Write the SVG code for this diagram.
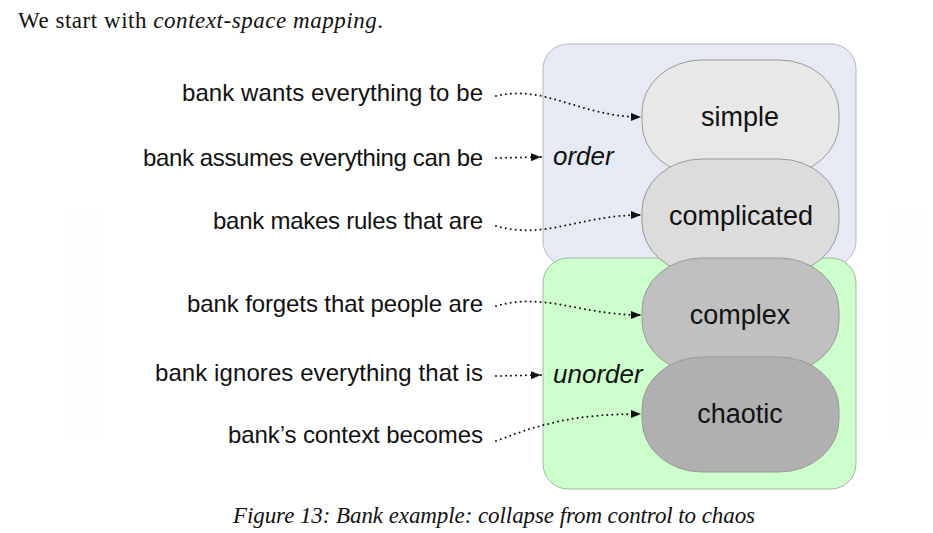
<svg xmlns="http://www.w3.org/2000/svg" width="933" height="533" viewBox="0 0 933 533">
<style>
.lbl{font-family:"Liberation Sans",Arial,sans-serif;font-size:24px;fill:#111;text-anchor:end}
.reg{font-family:"Liberation Sans",Arial,sans-serif;font-size:26px;font-style:italic;fill:#111}
.nt{font-family:"Liberation Sans",Arial,sans-serif;font-size:27px;fill:#111;text-anchor:middle}
.dom{stroke:#999;stroke-width:1}
.con{fill:none;stroke:#111;stroke-width:2;stroke-dasharray:0 5;stroke-linecap:round}
.ser{font-family:"Liberation Serif","Times New Roman",serif;font-size:23px;fill:#111}
</style>
<defs>
<marker id="ah" viewBox="0 0 10 8" refX="10" refY="4" markerWidth="10" markerHeight="8" markerUnits="userSpaceOnUse" orient="auto">
<path d="M0,0 L10,4 L0,8 Z" fill="#111"/>
</marker>
</defs>
<rect x="0" y="0" width="933" height="533" fill="#fff"/>
<rect x="65" y="209" width="33" height="231" fill="#fdfdfd"/>
<rect x="889" y="209" width="33" height="231" fill="#fdfdfd"/>
<text class="ser" x="18" y="28" font-size="24" textLength="365">We start with <tspan font-style="italic">context-space mapping</tspan>.</text>
<g id="order">
<rect x="543" y="44" width="313" height="222" rx="25" ry="25" fill="#e6eaf5" stroke="#b4b8c4"/>
<text class="reg" x="553" y="165">order</text>
</g>
<g id="unorder">
<rect x="543" y="258" width="313" height="231" rx="25" ry="25" fill="#ccffcc" stroke="#a0b8a0"/>
<text class="reg" x="553" y="383">unorder</text>
</g>
<g id="simple">
<rect class="dom" x="642" y="60" width="197" height="115" rx="60" ry="52" fill="#e8e8e8"/>
<text class="nt" x="740" y="126">simple</text>
</g>
<g id="complicated">
<rect class="dom" x="642" y="159" width="197" height="115" rx="60" ry="52" fill="#dcdcdc"/>
<text class="nt" x="741" y="225">complicated</text>
</g>
<g id="complex">
<rect class="dom" x="642" y="258" width="197" height="115" rx="60" ry="52" fill="#c0c0c0"/>
<text class="nt" x="740" y="324">complex</text>
</g>
<g id="chaotic">
<rect class="dom" x="642" y="357" width="197" height="115" rx="60" ry="52" fill="#b0b0b0"/>
<text class="nt" x="740" y="423">chaotic</text>
</g>
<g id="labels">
<text class="lbl" x="483" y="101" textLength="301">bank wants everything to be</text>
<text class="lbl" x="483" y="166" textLength="340">bank assumes everything can be</text>
<text class="lbl" x="483" y="229" textLength="270">bank makes rules that are</text>
<text class="lbl" x="483" y="312" textLength="296">bank forgets that people are</text>
<text class="lbl" x="483" y="381" textLength="328">bank ignores everything that is</text>
<text class="lbl" x="483" y="443" textLength="255">bank’s context becomes</text>
</g>
<g id="connectors">
<path class="con" marker-end="url(#ah)" d="M496,96 C545,84 580,117 641,117"/>
<path class="con" marker-end="url(#ah)" d="M496,158 L541,157"/>
<path class="con" marker-end="url(#ah)" d="M496,226 C545,240 580,215 641,215"/>
<path class="con" marker-end="url(#ah)" d="M496,306 C545,292 580,315 641,315"/>
<path class="con" marker-end="url(#ah)" d="M496,376 L541,375"/>
<path class="con" marker-end="url(#ah)" d="M496,441 C545,422 580,414 641,414"/>
</g>
<text class="ser" x="233" y="523" font-style="italic" textLength="522">Figure 13: Bank example: collapse from control to chaos</text>
</svg>
